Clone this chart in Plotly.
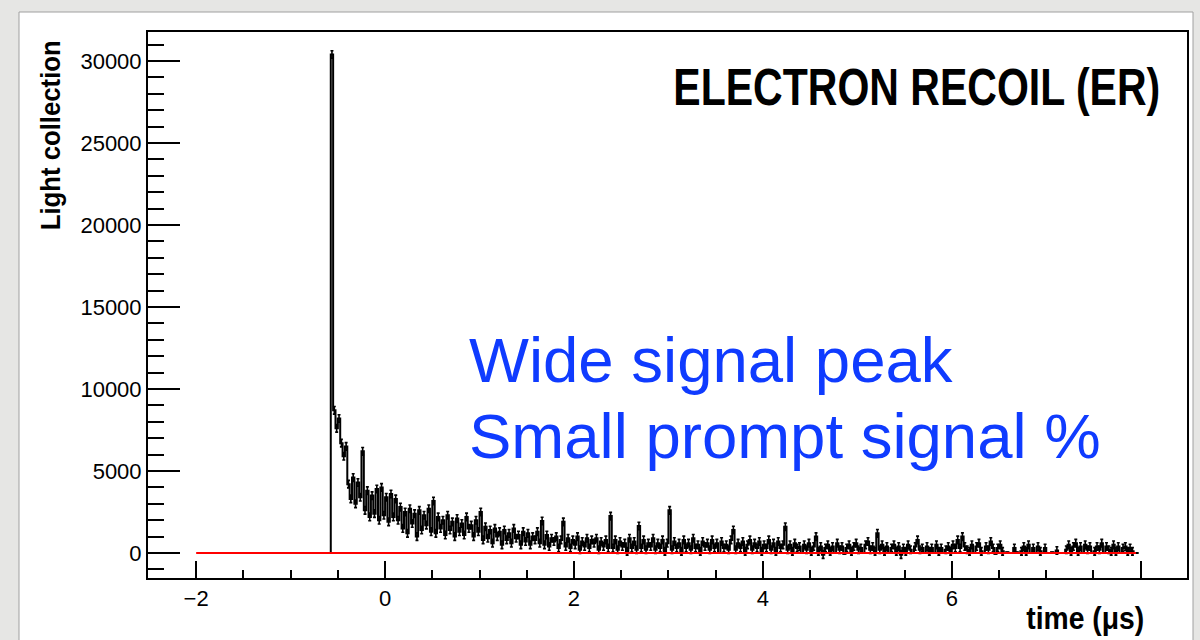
import numpy as np
import plotly.graph_objects as go

# ---- data -------------------------------------------------------------
bin_start = -0.6      # µs, left edge of first bin
bin_width = 0.025     # µs

light = [
    0, 30400,
    8700, 7600, 8200, 6700, 5900, 6500, 4200, 3300, 4600, 3000, 4300, 3400,
    6200,
    2600, 3800, 2200, 3500, 2400, 3900, 2000, 4000, 2300, 3400, 1900, 3600, 2200, 3300, 2000,
    2800, 1500, 2500, 1200, 2700, 1800, 2400, 1000, 2600, 1400, 2300, 1700, 2700, 1300, 3170,
    1200, 2200, 1500, 2000, 1100, 2300, 1400, 1900, 1000, 2100, 1300, 1800, 1100, 2200, 1500,
    1700, 1000, 2000, 1300, 2500,
    800, 1600, 900, 1400, 600, 1500, 1000, 1300, 500, 1400, 800, 1200, 600, 1500, 900,
    1100, 500, 1300, 700, 1200, 500, 1000, 800, 1300, 600,
    1950,
    500, 1100, 400, 900, 700, 1000, 300, 800,
    1900,
    400, 900, 300, 800, 500, 1000, 200, 700, 400, 900, 300, 800, 600, 900, 200, 700, 400, 800, 300,
    2250,
    300, 800, 200, 700, 400, 600, 100, 900, 300, 700, 200,
    1650,
    300, 800, 200, 600, 400, 900, 200, 600, 300, 800, 100, 600,
    2600,
    200, 700, 300, 600, 100, 800, 300, 600, 200, 900, 300, 500, 100, 700, 400, 600, 200, 800,
    300, 600, 0, 700, 300, 500, 200, 800,
    1400,
    200, 600, 300, 700, 100, 500, 800, 200, 600, 300, 700, 100, 500, 300, 800, 200, 600, 100,
    700, 300, 500,
    1600,
    200, 500, 100, 600, 300, 400, 0, 500, 200, 600, 100, 400,
    1000,
    100, 400, -100, 300, 500, 100, 400, 0, 600, 200, 400, -50, 300, 500, 100, 400, 600, 200,
    300, 0, 500, 700, 200, 400, 100,
    1200,
    200, 500, 100, 400, 0, 300, 500, 100, 400, -100, 300, 100, 500, 200, 0, 400, 800, 200,
    300, 0, 400, 100, 300, 0, 500, 100, 300, 0, 200, 400, 100, 500, 300,
    800, 300, 1000, 400, 200,
    100, 500, 0, 400, 600, 100, 0, 400, 200, 700, 300, -50, 300, 500, 100,
    0, 50, 0, 0, 300, 50, 0, 100,
    400, 100, 500, 0, 300, 0, 400, 100, 0, 300,
    0, 0, 50, 0, 150, 0, 0, 0,
    200, 500, 100, 400, 600, 100, 400, 0, 500, 200, 400, 0, 100, 400, 200, 600, 0, 400,
    200, 100, 500, 100, 400, 0, 300, 400, 100, 300, 100, 0, 0,
]
light_err = 230       # typical per-bin error bar half-height (empty bins have none)

fit_x = [-2.0, 7.95]
fit_y = [0.0, 0.0]

x_ticks = [-2, 0, 2, 4, 6, 8]
x_tick_text = ["\u22122", "0", "2", "4", "6", ""]

title_text = "ELECTRON RECOIL (ER)"
y_title = "Light collection"
x_title = "time (\u03bcs)"
note_lines = ["Wide signal peak", "Small prompt signal %"]

# ---- build step histogram --------------------------------------------
light_arr = np.array(light, dtype=float)
edges = bin_start + bin_width * np.arange(len(light) + 1)
centers = (edges[:-1] + edges[1:]) / 2
step_x = list(edges)
step_y = list(light) + [light[-1]]
err = np.where(np.abs(light_arr) > 60, light_err, 0)

fig = go.Figure()
# error bars at bin centres (ROOT "E" style)
fig.add_trace(go.Scatter(x=centers, y=light, mode="markers",
                         marker=dict(size=1, color="black"),
                         error_y=dict(type="data", array=err, symmetric=True, color="black",
                                      thickness=1.6, width=1.5),
                         hoverinfo="skip"))
fig.add_trace(go.Scatter(x=step_x, y=step_y, mode="lines", line_shape="hv",
                         line=dict(color="black", width=2)))
fig.add_trace(go.Scatter(x=fit_x, y=fit_y, mode="lines",
                         line=dict(color="#ff0000", width=2.2), hoverinfo="skip"))

W, H = 1200, 640
L, R, T, B = 148, 13, 32, 62
pw, ph = W - L - R, H - T - B

def px(xp):
    return (xp - L) / pw

def py(yp):
    return (H - B - yp) / ph

sans = "Liberation Sans, Arial, Helvetica, sans-serif"

fig.update_layout(
    width=W, height=H,
    margin=dict(l=L, r=R, t=T, b=B, pad=0),
    paper_bgcolor="#e6e6e4",
    plot_bgcolor="white",
    showlegend=False,
    font=dict(family=sans, color="black"),
    xaxis=dict(
        range=[-2.51, 8.49],
        tickmode="array", tickvals=x_ticks, ticktext=x_tick_text,
        ticks="inside", ticklen=17, tickwidth=1.5, tickcolor="black",
        minor=dict(ticks="inside", dtick=0.5, tick0=0, ticklen=8, tickwidth=1.5, tickcolor="black"),
        showline=True, linecolor="black", linewidth=2, mirror=True,
        showgrid=False, zeroline=False,
        tickfont=dict(size=22, color="black"),
    ),
    yaxis=dict(
        range=[-1524, 31770],
        tickmode="linear", tick0=0, dtick=5000, tickformat="d",
        ticks="inside", ticklen=32, tickwidth=1.5, tickcolor="black",
        minor=dict(ticks="inside", dtick=1000, tick0=0, ticklen=16, tickwidth=1.5, tickcolor="black"),
        showline=True, linecolor="black", linewidth=2, mirror=True,
        showgrid=False, zeroline=False,
        tickfont=dict(size=22, color="black"),
    ),
)

# white canvas panel
fig.add_shape(type="rect", xref="paper", yref="paper", layer="below",
              x0=px(19), x1=px(1193), y0=py(12), y1=py(660),
              fillcolor="white", line=dict(color="#a0a0a0", width=1))

# condensed bold labels (annotations 0..2, condensed by post script)
fig.add_annotation(text="<b>" + title_text + "</b>", xref="paper", yref="paper",
                   x=px(1162), y=py(87), showarrow=False,
                   xanchor="right", yanchor="middle",
                   font=dict(family=sans, size=52, color="black"))
fig.add_annotation(text="<b>" + y_title + "</b>", xref="paper", yref="paper",
                   x=px(51), y=py(135), textangle=-90, showarrow=False,
                   xanchor="center", yanchor="middle",
                   font=dict(family=sans, size=27, color="black"))
fig.add_annotation(text="<b>" + x_title + "</b>", xref="paper", yref="paper",
                   x=px(1146), y=py(618), showarrow=False,
                   xanchor="right", yanchor="middle",
                   font=dict(family=sans, size=31, color="black"))

# blue notes
for i, line in enumerate(note_lines):
    fig.add_annotation(text=line, xref="paper", yref="paper",
                       x=px(467), y=py(360 + 76 * i), showarrow=False,
                       xanchor="left", yanchor="middle",
                       font=dict(family=sans, size=63.5, color="#0f3bff"))

post = """
(function(){
  var gd = document.getElementsByClassName('plotly-graph-div')[0];
  var spec = [[487,'right'],[190,'middle'],[118,'right']];
  function condense(){
    var anns = gd.querySelectorAll('g.annotation');
    for (var i = 0; i < spec.length && i < anns.length; i++){
      var t = anns[i].querySelector('text.annotation-text');
      if (!t) continue;
      t.removeAttribute('transform');
      var bb = t.getBBox();
      if (!bb.width) continue;
      var s = spec[i][0] / bb.width;
      var p = spec[i][1] === 'right' ? bb.x + bb.width : bb.x + bb.width / 2;
      t.setAttribute('transform', 'translate(' + p + ',0) scale(' + s + ',1) translate(' + (-p) + ',0)');
    }
  }
  condense();
  if (gd.on) gd.on('plotly_afterplot', condense);
})();
"""

fig.write_html("out.html", post_script=post)
